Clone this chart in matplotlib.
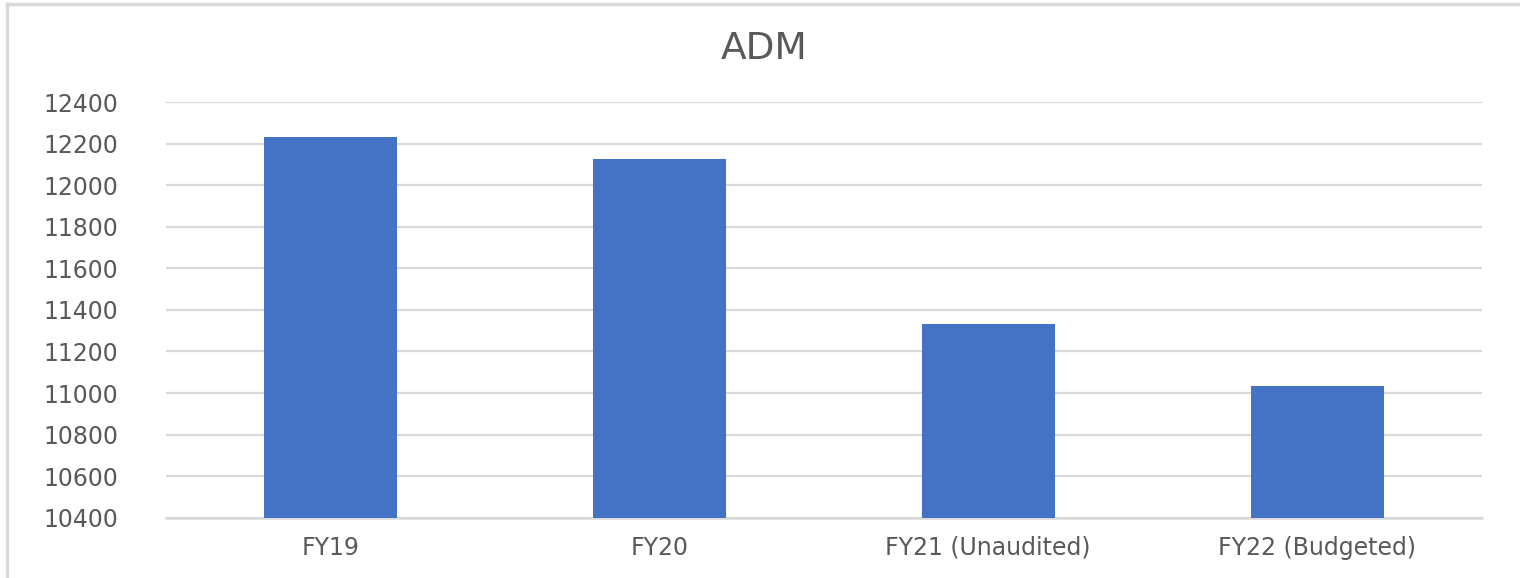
import matplotlib
matplotlib.use("Agg")
import matplotlib.pyplot as plt
from matplotlib.lines import Line2D

# data
categories = ["FY19", "FY20", "FY21 (Unaudited)", "FY22 (Budgeted)"]
adm_values = [12230, 12125, 11333, 11033]
y_ticks = [10400, 10600, 10800, 11000, 11200, 11400, 11600, 11800, 12000, 12200, 12400]

plt.rcParams['font.family'] = ['DejaVu Sans']
text_color = '#595959'

fig = plt.figure(figsize=(15.2, 5.78), dpi=100)
ax = fig.add_axes([0.109, 0.1043, 0.8657, 0.7192])

x = range(len(categories))
ax.bar(x, adm_values, width=0.404, color='#4472C4', zorder=3)

ax.set_xlim(-0.5, len(categories) - 0.5)
ax.set_ylim(10400, 12400)
ax.set_yticks(y_ticks)
ax.set_xticks(list(x))
ax.set_xticklabels(categories)
ax.yaxis.grid(True, color='#D9D9D9', linewidth=1.6, zorder=0)
ax.set_axisbelow(True)

for s in ['top', 'right', 'left']:
    ax.spines[s].set_visible(False)
ax.spines['bottom'].set_color('#D9D9D9')
ax.spines['bottom'].set_linewidth(1.8)

ax.tick_params(axis='both', length=0, labelsize=17, colors=text_color)
ax.tick_params(axis='y', pad=34)
ax.tick_params(axis='x', pad=13)

fig.text(0.503, 0.915, 'ADM', ha='center', va='center', fontsize=27, color=text_color)

# outer chart border (top and left edges visible)
fig.add_artist(Line2D([7 / 1520, 1], [1 - 4 / 578, 1 - 4 / 578], color='#D9D9D9', linewidth=2.5, transform=fig.transFigure))
fig.add_artist(Line2D([7 / 1520, 7 / 1520], [0, 1 - 4 / 578], color='#D9D9D9', linewidth=2.5, transform=fig.transFigure))

fig.savefig('out.png', dpi=100)
